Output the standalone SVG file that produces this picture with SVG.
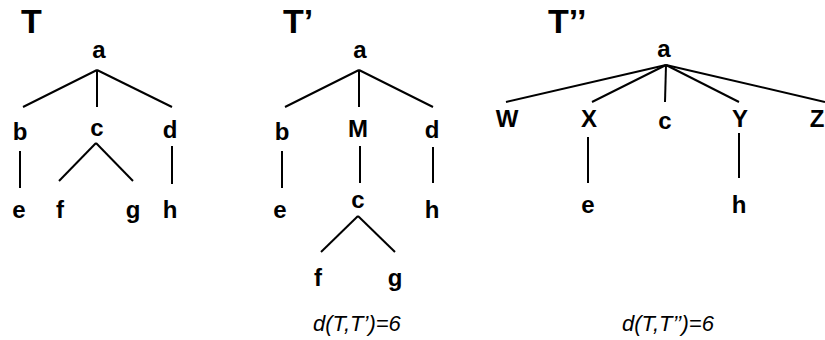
<svg xmlns="http://www.w3.org/2000/svg" width="825" height="340" viewBox="0 0 825 340">
  <style>
    .title { font-family: "Liberation Sans", Arial, sans-serif; font-weight: bold; font-size: 34px; fill: #000; }
    .lbl { font-family: "Liberation Sans", Arial, sans-serif; font-weight: bold; font-size: 24px; fill: #000; text-anchor: middle; }
    .dist { font-family: "Liberation Sans", Arial, sans-serif; font-style: italic; font-size: 22px; fill: #000; }
    .edge { stroke: #000; stroke-width: 2; fill: none; }
  </style>
  <rect width="825" height="340" fill="#fff"/>

  <!-- tree titles -->
  <text class="title" x="21" y="33">T</text>
  <text class="title" x="283" y="33">T’</text>
  <text class="title" x="548" y="33">T’’</text>

  <!-- connectors -->
  <g id="edges">
    <!-- T -->
    <line class="edge" x1="97" y1="70" x2="23" y2="107"/>
    <line class="edge" x1="97" y1="70" x2="97" y2="107"/>
    <line class="edge" x1="97" y1="70" x2="172" y2="107"/>
    <line class="edge" x1="20" y1="151" x2="20" y2="188"/>
    <line class="edge" x1="96" y1="143" x2="59" y2="181"/>
    <line class="edge" x1="96" y1="143" x2="133" y2="181"/>
    <line class="edge" x1="172" y1="146" x2="172" y2="184"/>
    <!-- T' -->
    <line class="edge" x1="359" y1="70" x2="285" y2="107"/>
    <line class="edge" x1="359" y1="70" x2="359" y2="107"/>
    <line class="edge" x1="359" y1="70" x2="433" y2="107"/>
    <line class="edge" x1="282" y1="151" x2="282" y2="188"/>
    <line class="edge" x1="360" y1="146" x2="360" y2="183"/>
    <line class="edge" x1="433" y1="147" x2="433" y2="183"/>
    <line class="edge" x1="358" y1="216" x2="321" y2="252"/>
    <line class="edge" x1="358" y1="216" x2="395" y2="252"/>
    <!-- T'' -->
    <line class="edge" x1="666" y1="65" x2="506" y2="102"/>
    <line class="edge" x1="666" y1="65" x2="592" y2="102"/>
    <line class="edge" x1="666" y1="65" x2="665" y2="102"/>
    <line class="edge" x1="666" y1="65" x2="739" y2="102"/>
    <line class="edge" x1="666" y1="65" x2="825" y2="102"/>
    <line class="edge" x1="588" y1="137" x2="588" y2="183"/>
    <line class="edge" x1="739" y1="133" x2="739" y2="178"/>
  </g>

  <!-- tree T -->
  <g id="t1-a"><text class="lbl" x="99" y="58">a</text></g>
  <g id="t1-b"><text class="lbl" x="20" y="140">b</text></g>
  <g id="t1-c"><text class="lbl" x="97" y="136">c</text></g>
  <g id="t1-d"><text class="lbl" x="170" y="138">d</text></g>
  <g id="t1-e"><text class="lbl" x="19" y="218">e</text></g>
  <g id="t1-f"><text class="lbl" x="60" y="218">f</text></g>
  <g id="t1-g"><text class="lbl" x="133" y="218">g</text></g>
  <g id="t1-h"><text class="lbl" x="170" y="218">h</text></g>

  <!-- tree T' -->
  <g id="t2-a"><text class="lbl" x="360" y="58">a</text></g>
  <g id="t2-b"><text class="lbl" x="282" y="140">b</text></g>
  <g id="t2-M"><text class="lbl" x="358" y="137">M</text></g>
  <g id="t2-d"><text class="lbl" x="432" y="138">d</text></g>
  <g id="t2-e"><text class="lbl" x="280" y="218">e</text></g>
  <g id="t2-c"><text class="lbl" x="358" y="208">c</text></g>
  <g id="t2-h"><text class="lbl" x="432" y="218">h</text></g>
  <g id="t2-f"><text class="lbl" x="318" y="286">f</text></g>
  <g id="t2-g"><text class="lbl" x="395" y="286">g</text></g>

  <!-- tree T'' -->
  <g id="t3-a"><text class="lbl" x="664" y="57">a</text></g>
  <g id="t3-W"><text class="lbl" x="507" y="127">W</text></g>
  <g id="t3-X"><text class="lbl" x="589" y="127">X</text></g>
  <g id="t3-c"><text class="lbl" x="665" y="129">c</text></g>
  <g id="t3-Y"><text class="lbl" x="740" y="127">Y</text></g>
  <g id="t3-Z"><text class="lbl" x="817" y="127">Z</text></g>
  <g id="t3-e"><text class="lbl" x="588" y="213">e</text></g>
  <g id="t3-h"><text class="lbl" x="739" y="213">h</text></g>

  <!-- distances -->
  <text class="dist" x="313" y="331">d(T,T’)=6</text>
  <text class="dist" x="622" y="331">d(T,T’’)=6</text>
</svg>
